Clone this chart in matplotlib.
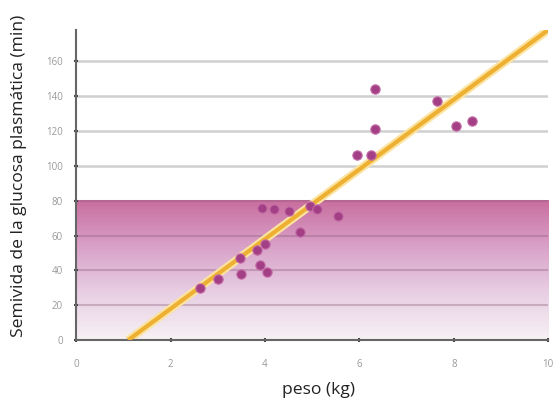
import numpy as np
import matplotlib.pyplot as plt
from matplotlib.colors import LinearSegmentedColormap

plt.rcParams["font.family"] = ["Open Sans", "DejaVu Sans"]

# datos
peso = [2.63, 3.01, 3.47, 3.50, 3.83, 4.00, 3.90, 4.05, 3.94, 4.20, 4.50,
        4.75, 4.96, 5.10, 5.55, 5.95, 6.25, 6.33, 6.33, 7.65, 8.05, 8.39]
semivida = [30, 35, 47, 38, 52, 55, 43, 39, 76, 75, 74,
            62, 77, 75, 71, 106, 106, 121, 144, 137, 123, 126]
x_ticks = [0, 2, 4, 6, 8, 10]
y_ticks = [0, 20, 40, 60, 80, 100, 120, 140, 160]
recta_x = [1.1, 10]
recta_y = [0, 178]
banda_max = 80

fig = plt.figure(figsize=(5.6, 4.04), dpi=100)
ax = fig.add_axes([0.136, 0.158, 0.843, 0.768])

# banda rosa con degradado
cmap = LinearSegmentedColormap.from_list("rosa", ["#f6f1f4", "#e8cfe4", "#d9a2c8", "#c96e9f"])
grad = np.linspace(0, 1, 256).reshape(-1, 1)
ax.imshow(grad, extent=[0, 10.05, 0, banda_max], origin="lower", aspect="auto",
          cmap=cmap, zorder=0)

for y in y_ticks[1:]:
    if y <= banda_max:
        ax.axhline(y, color="#8a5a78", alpha=0.35, lw=1.5, zorder=1)
    else:
        ax.axhline(y, color="#d0d0d0", lw=1.8, zorder=1)

ax.plot(recta_x, recta_y, color="#fbe3a0", lw=6, solid_capstyle="butt", zorder=2)
ax.plot(recta_x, recta_y, color="#eeb032", lw=3, solid_capstyle="butt", zorder=3)
ax.scatter(peso, semivida, s=45, color="#a23f85", edgecolors="#c46ca8", linewidths=0.8, zorder=4)

ax.set_xlim(0, 10)
ax.set_ylim(0, 178)
ax.set_xticks(x_ticks)
ax.set_yticks(y_ticks)
ax.tick_params(labelsize=7, colors="#444444", labelcolor="#999999", length=3, width=1.5, direction="inout")
ax.tick_params(axis="x", pad=12)
ax.tick_params(axis="y", pad=8)
for s in ["top", "right"]:
    ax.spines[s].set_visible(False)
for s in ["left", "bottom"]:
    ax.spines[s].set_color("#666666")
    ax.spines[s].set_linewidth(1.5)

ax.set_xlabel("peso (kg)", fontsize=12.6, color="#222222")
ax.set_ylabel("Semivida de la glucosa plasmática (min)", fontsize=12.6, color="#222222")
ax.xaxis.set_label_coords(0.513, -0.135)
ax.yaxis.set_label_coords(-0.105, 0.53)

fig.savefig("out.png", dpi=100)
